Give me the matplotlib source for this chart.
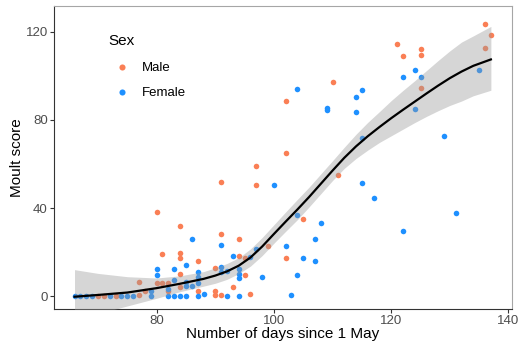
import numpy as np
import matplotlib
matplotlib.use('Agg')
from matplotlib import pyplot as plt

plt.rcParams['font.family'] = ['Liberation Sans', 'DejaVu Sans']

# Female (blue) points: day since 1 May, moult score
female_x = [66, 67, 68, 69, 72, 74, 75, 76, 79, 79, 80, 80,
            82, 82, 83, 83, 83, 84, 85, 85, 85, 85, 86, 86,
            87, 87, 87, 87, 88, 91, 91, 91, 92, 92, 93,
            94, 94, 94, 94, 96, 97, 98, 100, 102, 103, 104, 104, 104,
            105, 107, 107, 108, 109, 109, 114, 114, 115, 115, 115, 117,
            122, 122, 124, 124, 125, 129, 131, 135]
female_y = [0, 0, 0, 0, 0, 0, 0, 0, 0, 2.5, 9.5, 12.5,
            0, 3, 0, 7.5, 12.5, 0, 0, 4.5, 6.5, 14.3, 4.5, 25.8,
            0, 6, 8.8, 11, 0.8, 11, 13.3, 23.3, 0, 11.5, 18.2,
            0, 8.3, 9.9, 12.1, 17.6, 21.2, 8.8, 50.5, 22.9, 0.3, 9.4, 36.8, 94,
            17.4, 15.9, 25.8, 33, 85.3, 84.5, 83.5, 90.6, 93.6, 72, 51.4, 44.4,
            29.4, 99.5, 102.6, 85, 99.5, 72.6, 37.9, 102.6]

# Male (orange) points
male_x = [70, 71, 73, 77, 77, 78, 80, 80, 81, 81, 82, 82,
          84, 84, 84, 84, 84, 87, 87, 90, 90, 90, 91, 91, 91,
          93, 94, 94, 95, 95, 96, 97, 97, 99, 102, 102, 102,
          105, 110, 111, 121, 122, 125, 125, 125, 136, 137, 136]
male_y = [0, 0, 0, 0.5, 6.5, 2.5, 6, 38.3, 19, 6, 2.3, 6,
          10, 4, 17.4, 19.7, 32, 15.9, 2.3, 0.3, 2.5, 12.9, 0.3, 28, 52,
          4.2, 18.2, 25.8, 9.5, 17.4, 0.9, 50.5, 59, 22.9, 17.4, 65, 88.5,
          35, 97.4, 55, 114.5, 109, 112.1, 109.5, 94.4, 123.6, 118.6, 112.6]

# Smoothed trend (loess) and its confidence band
smooth_x = [66, 70, 75, 80, 84, 88, 90, 92, 94, 96, 98, 100, 102, 104, 106, 108,
            110, 112, 114, 116, 118, 120, 122, 124, 126, 128, 130, 132, 134, 137]
smooth_y = [-0.3, 0.5, 1.6, 3.6, 5.6, 7.8, 9.3, 11.2, 13.8, 17.5, 22.5, 28.2, 33.8, 39.3, 45, 51,
            57, 62.8, 68, 72.6, 76.8, 80.8, 84.6, 88.3, 92, 95.6, 99, 102, 104.6, 107.5]
smooth_lo = [-13, -8, -4.5, -1, 2, 4.5, 5.8, 7.6, 10.2, 13.6, 18.4, 24, 29.4, 34.7, 40.5, 46.5,
             52.5, 58, 62.5, 66.3, 69.8, 72.8, 75.8, 78.8, 81.6, 84.2, 86.6, 88.6, 91, 93.5]
smooth_hi = [12, 10.3, 8.8, 8.2, 9.2, 11.1, 12.8, 14.8, 17.4, 21.4, 26.6, 32.4, 38.2, 43.9, 49.5, 55.5,
             61.5, 67.6, 73.5, 78.9, 83.8, 88.8, 93.4, 97.8, 102.4, 107, 111.4, 115.4, 118.2, 122.5]

male_col = '#FA7F55'
female_col = '#1E90FF'

fig = plt.figure(figsize=(5.19, 3.5), dpi=100)
ax = fig.add_axes([0.104, 0.117, 0.8825, 0.866])

ax.scatter(male_x, male_y, s=16, color=male_col, linewidths=0, label='Male', zorder=2)
ax.scatter(female_x, female_y, s=16, color=female_col, linewidths=0, label='Female', zorder=2)

ax.fill_between(smooth_x, smooth_lo, smooth_hi, color='#999999', alpha=0.4, linewidth=0, zorder=3)
ax.plot(smooth_x, smooth_y, color='black', lw=1.6, zorder=4, solid_joinstyle='round')

ax.set_xlim(62.5, 140.6)
ax.set_ylim(-5.9, 131.8)
ax.set_xticks([80, 100, 120, 140])
ax.set_yticks([0, 40, 80, 120])

for side in ['left', 'bottom']:
    ax.spines[side].set_color('#333333')
    ax.spines[side].set_linewidth(0.8)
for side in ['top', 'right']:
    ax.spines[side].set_color('#A6A6A6')
    ax.spines[side].set_linewidth(0.8)

ax.tick_params(axis='both', length=3, width=0.8, color='#333333',
               labelsize=9.5, labelcolor='#4D4D4D', pad=1.5)

ax.set_xlabel('Number of days since 1 May', fontsize=11, labelpad=0)
ax.set_ylabel('Moult score', fontsize=11, labelpad=1)

leg = ax.legend(loc='upper left', bbox_to_anchor=(0.105, 0.93), frameon=False,
                title='Sex', fontsize=9.5, title_fontsize=11, borderpad=0,
                labelspacing=0.95, handletextpad=0.55, alignment='left',
                markerscale=1.1)
leg._legend_box.sep = 10

fig.savefig('out.png', dpi=100)
